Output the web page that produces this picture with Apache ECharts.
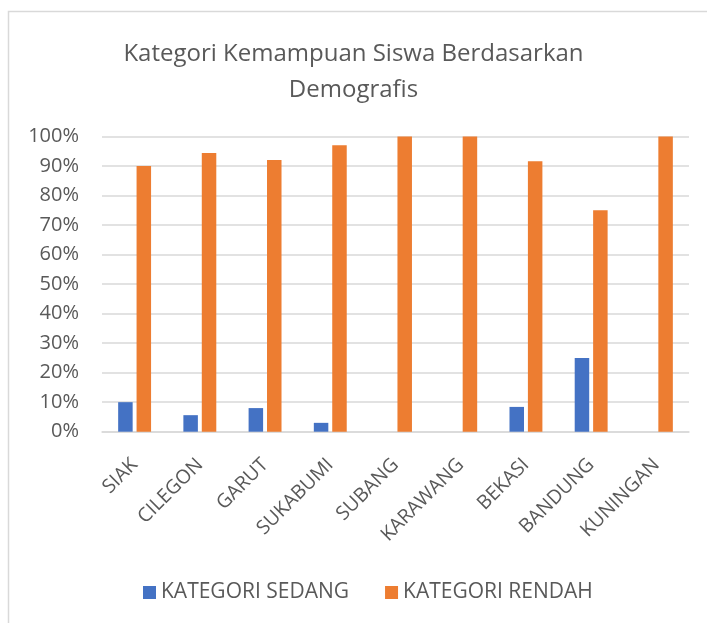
<!DOCTYPE html>
<html>
<head>
<meta charset="utf-8">
<script src="https://cdn.jsdelivr.net/npm/echarts@6/dist/echarts.min.js"></script>
<style>
  html, body { margin: 0; padding: 0; background: #fff; }
  #chart { width: 707px; height: 623px; }
</style>
</head>
<body>
<div id="chart"></div>
<script>
// kabupaten / kota
const categories = ['SIAK', 'CILEGON', 'GARUT', 'SUKABUMI', 'SUBANG', 'KARAWANG', 'BEKASI', 'BANDUNG', 'KUNINGAN']
// persentase siswa per kategori
const sedang = [10, 5.6, 8, 3, 0, 0, 8.4, 25, 0]
const rendah = [90, 94.4, 92, 97, 100, 100, 91.6, 75, 100]
const yTicks = [0, 10, 20, 30, 40, 50, 60, 70, 80, 90, 100]

const font = 'Open Sans'
const chart = echarts.init(document.getElementById('chart'))

chart.setOption({
  animation: false,
  textStyle: { fontFamily: font },
  graphic: [{
    type: 'rect',
    shape: { x: 8.5, y: 11.5, width: 720, height: 640 },
    style: { fill: 'none', stroke: '#d9d9d9', lineWidth: 1.5 },
    silent: true
  }],
  title: {
    text: 'Kategori Kemampuan Siswa Berdasarkan\nDemografis',
    left: 'center',
    top: 31,
    textStyle: { fontFamily: font, fontSize: 24, fontWeight: 'normal', color: '#595959', lineHeight: 36 }
  },
  legend: {
    bottom: 15,
    left: 138,
    itemWidth: 13,
    itemHeight: 13,
    itemGap: 36,
    icon: 'rect',
    textStyle: { fontFamily: font, fontSize: 21, color: '#595959' },
    data: ['KATEGORI SEDANG', 'KATEGORI RENDAH']
  },
  grid: { left: 102, right: 18, top: 136.5, bottom: 191.3 },
  xAxis: {
    type: 'category',
    data: categories,
    axisLine: { lineStyle: { color: '#d9d9d9', width: 1.5 } },
    axisTick: { show: false },
    axisLabel: {
      rotate: 45, fontSize: 19.5, color: '#595959', margin: 30, interval: 0, fontFamily: font
    }
  },
  yAxis: {
    type: 'value',
    min: 0,
    max: 100,
    interval: 10,
    axisLine: { show: false },
    axisTick: { show: false },
    splitLine: { lineStyle: { color: '#d9d9d9', width: 1.5 } },
    axisLabel: {
      fontSize: 20, color: '#595959', margin: 23, fontFamily: font,
      formatter: v => yTicks.includes(v) ? v + '%' : ''
    }
  },
  series: [
    {
      name: 'KATEGORI SEDANG',
      type: 'bar',
      data: sedang,
      barWidth: 14.5,
      barGap: '27%',
      itemStyle: { color: '#4472c4' }
    },
    {
      name: 'KATEGORI RENDAH',
      type: 'bar',
      data: rendah,
      barWidth: 14.5,
      barGap: '27%',
      itemStyle: { color: '#ed7d31' }
    }
  ]
})
</script>
</body>
</html>
